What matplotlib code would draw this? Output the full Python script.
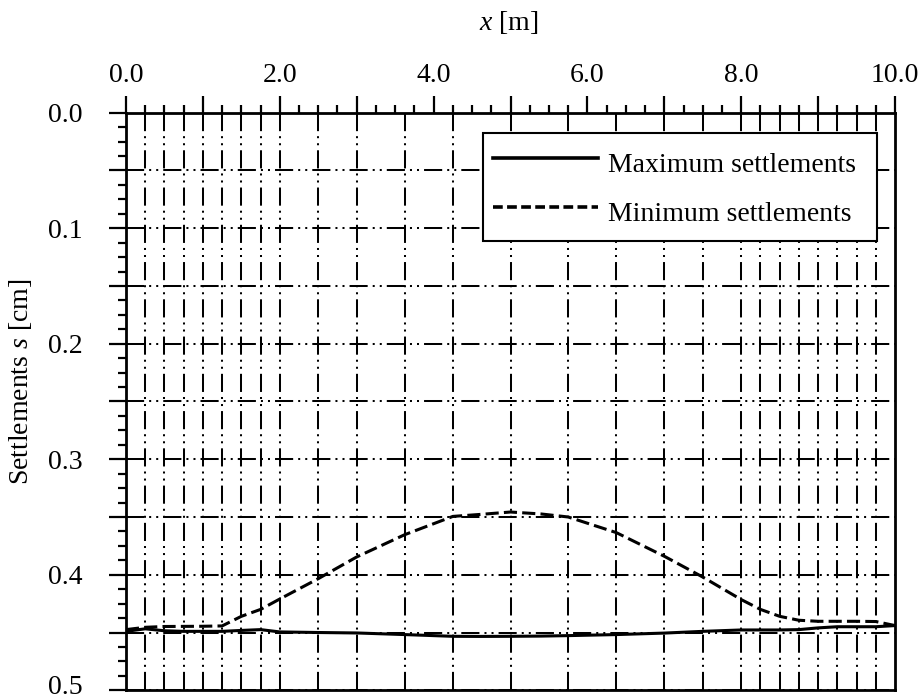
import numpy as np
import matplotlib
matplotlib.use('Agg')
import matplotlib.pyplot as plt
from matplotlib.ticker import MultipleLocator, FixedLocator, FuncFormatter
from matplotlib.lines import Line2D

plt.rcParams['font.family'] = ['Liberation Serif', 'DejaVu Serif']
plt.rcParams['mathtext.fontset'] = 'custom'
plt.rcParams['mathtext.rm'] = 'Liberation Serif'
plt.rcParams['mathtext.it'] = 'Liberation Serif:italic'

# mesh nodes (also where the vertical grid lines are)
x_nodes = [0.0, 0.25, 0.5, 0.75, 1.0, 1.25, 1.5, 1.75, 2.0, 2.5, 3.0, 3.625, 4.25,
           4.6, 5.0, 5.4, 5.75, 6.375, 7.0, 7.5, 8.0, 8.25, 8.5, 8.75, 9.0, 9.25,
           9.5, 9.75, 10.0]
s_max = [0.449, 0.4468, 0.4485, 0.449, 0.449, 0.449, 0.4482, 0.4475, 0.4495, 0.450,
         0.4504, 0.4518, 0.4533, 0.4534, 0.4533, 0.4531, 0.4527, 0.4518, 0.4505,
         0.449, 0.4478, 0.4478, 0.4478, 0.4475, 0.446, 0.445, 0.445, 0.445, 0.444]
s_min = [0.4475, 0.4455, 0.4448, 0.4447, 0.4446, 0.4443, 0.436, 0.430, 0.421, 0.4034,
         0.3846, 0.3653, 0.3495, 0.3478, 0.3457, 0.3474, 0.350, 0.3635, 0.384,
         0.402, 0.4215, 0.430, 0.436, 0.4394, 0.4403, 0.4403, 0.4403, 0.4405, 0.444]
grid_x = [0.25, 0.5, 0.75, 1.0, 1.25, 1.5, 1.75, 2.0, 2.5, 3.0, 3.625, 4.25, 5.0,
          5.75, 6.375, 7.0, 7.5, 8.0, 8.25, 8.5, 8.75, 9.0, 9.25, 9.5, 9.75]
labels = ['Maximum settlements', 'Minimum settlements']

fs = 20
fig = plt.figure(figsize=(9.23, 6.99), dpi=100)
ax = fig.add_axes([0.1365, 0.0125, 0.8332, 0.8263])

gls = (0, (9, 2.5, 1, 2.5, 1, 2.5))
for gx in grid_x:
    ax.axvline(gx, color='black', lw=1.45, ls=gls, zorder=1)

ax.plot(x_nodes, s_max, color='black', lw=2.2, zorder=3)
ax.plot(x_nodes, s_min, color='black', lw=2.2, ls=(0, (4.3, 1.7)), zorder=3)

ax.set_xlim(0, 10)
ax.set_ylim(0.5, 0.0)

ax.xaxis.tick_top()
ax.xaxis.set_major_locator(FixedLocator(np.arange(0, 11, 1.0)))
ax.xaxis.set_minor_locator(MultipleLocator(0.25))
ax.xaxis.set_major_formatter(FuncFormatter(lambda v, p: '%.1f' % v if round(v) % 2 == 0 else ''))
ax.yaxis.set_major_locator(MultipleLocator(0.05))
ax.yaxis.set_minor_locator(MultipleLocator(0.0125))
# 0.5 is written separately so it sits above the figure edge
ax.yaxis.set_major_formatter(FuncFormatter(
    lambda v, p: '%.1f' % v if (round(v * 20) % 2 == 0 and v < 0.49) else ''))

ax.tick_params(axis='x', which='major', direction='out', length=12, width=1.6, pad=5.5, labelsize=fs)
ax.tick_params(axis='x', which='minor', direction='out', length=6, width=1.6)
ax.tick_params(axis='y', which='major', direction='out', length=12, width=1.6, pad=19, labelsize=fs)
ax.tick_params(axis='y', which='minor', direction='out', length=5.5, width=1.6)

ax.annotate('0.5', xy=(0, 0.5), xycoords=('axes fraction', 'data'), xytext=(-31, -2.4),
            textcoords='offset points', ha='right', va='baseline', fontsize=fs)

ax.yaxis.grid(True, which='major', color='black', lw=1.45, ls=gls, zorder=1)
ax.set_axisbelow(True)

for sp in ax.spines.values():
    sp.set_linewidth(2.0)

fig.text(508.5 / 923, 1 - 23 / 699, '$x$ [m]', ha='center', va='center', fontsize=fs)
fig.text(21 / 923, 1 - 382 / 699, 'Settlements $s$ [cm]', ha='center', va='center',
         rotation=90, fontsize=fs)

handles = [Line2D([], [], color='black', lw=2.6),
           Line2D([], [], color='black', lw=2.6, ls=(0, (2.7, 1.2)))]
leg = ax.legend(handles, labels, loc='upper left', bbox_to_anchor=(0.464, 0.7715, 0.512, 0.1925),
                mode='expand', borderaxespad=0, fontsize=fs, handlelength=3.78,
                handletextpad=0.36, borderpad=0.37, labelspacing=0.38, handleheight=1.75,
                fancybox=False, framealpha=1, edgecolor='black')
leg.get_frame().set_linewidth(1.5)
leg.set_zorder(5)

fig.savefig('out.png', dpi=100)
